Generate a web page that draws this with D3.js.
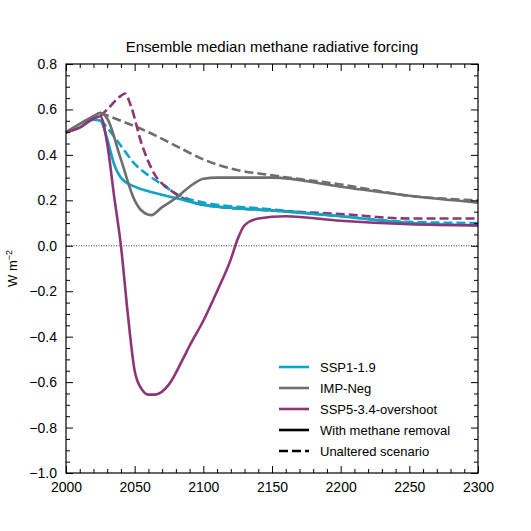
<!DOCTYPE html><html><head><meta charset="utf-8"><script src="https://d3js.org/d3.v7.min.js"></script>
<style>body{margin:0;background:#fff}text{font-family:"Liberation Sans",Arial,sans-serif}</style></head><body><svg id="c" width="531" height="531"></svg>
<script>
const ssp119Solid=[[2000,0.5],[2010,0.52],[2020,0.555],[2025,0.55],[2030,0.47],[2035,0.36],[2040,0.30],[2050,0.26],[2060,0.24],[2080,0.21],[2100,0.18],[2150,0.155],[2200,0.13],[2250,0.10],[2300,0.09]];
const ssp119Dash=[[2025,0.555],[2030,0.52],[2040,0.44],[2050,0.36],[2060,0.31],[2070,0.27],[2080,0.23],[2100,0.19],[2150,0.16],[2200,0.13],[2250,0.105],[2300,0.10]];
const impSolid=[[2000,0.5],[2020,0.57],[2025,0.585],[2030,0.56],[2040,0.38],[2050,0.20],[2055,0.155],[2062,0.135],[2070,0.17],[2080,0.21],[2090,0.26],[2100,0.295],[2110,0.30],[2150,0.30],[2200,0.26],[2250,0.22],[2300,0.19]];
const impDash=[[2025,0.585],[2040,0.55],[2060,0.50],[2080,0.44],[2100,0.38],[2120,0.34],[2150,0.31],[2200,0.27],[2250,0.22],[2300,0.20]];
const ssp534Solid=[[2000,0.5],[2010,0.52],[2020,0.56],[2025,0.57],[2030,0.45],[2035,0.22],[2040,0.0],[2045,-0.3],[2050,-0.55],[2055,-0.63],[2060,-0.655],[2065,-0.655],[2075,-0.61],[2085,-0.50],[2090,-0.44],[2100,-0.33],[2110,-0.20],[2120,-0.06],[2125,0.03],[2130,0.09],[2140,0.12],[2160,0.13],[2200,0.11],[2250,0.095],[2300,0.09]];
const ssp534Dash=[[2025,0.57],[2030,0.60],[2040,0.66],[2043,0.67],[2047,0.62],[2055,0.45],[2065,0.31],[2075,0.25],[2085,0.21],[2100,0.18],[2150,0.155],[2200,0.14],[2250,0.12],[2300,0.12]];
const xTicks=[2000,2050,2100,2150,2200,2250,2300];
const yTicks=[0.8,0.6,0.4,0.2,0.0,-0.2,-0.4,-0.6,-0.8,-1.0];
const C={cyan:"#0ea4c8",gray:"#6e6e6e",purple:"#8e3575"};
const svg=d3.select("#c");
const L=66,R=478,T=64,B=473;
const x=d3.scaleLinear().domain([2000,2300]).range([L,R]);
const y=d3.scaleLinear().domain([-1,0.8]).range([B,T]);
const g=svg.append("g");
g.append("line").attr("x1",L).attr("x2",R).attr("y1",y(0)).attr("y2",y(0)).attr("stroke","#000").attr("stroke-width",0.8).attr("stroke-dasharray","1,1.5");
const line=d3.line().x(d=>x(d[0])).y(d=>y(d[1])).curve(d3.curveMonotoneX);
const series=[[ssp119Dash,C.cyan,1],[impDash,C.gray,1],[ssp534Dash,C.purple,1],[ssp119Solid,C.cyan,0],[impSolid,C.gray,0],[ssp534Solid,C.purple,0]];
series.forEach(([d,c,dash])=>g.append("path").attr("d",line(d)).attr("fill","none").attr("stroke",c).attr("stroke-width",2.6).attr("stroke-dasharray",dash?"9,4":null));
g.append("rect").attr("x",L).attr("y",T).attr("width",R-L).attr("height",B-T).attr("fill","none").attr("stroke","#000").attr("stroke-width",1.2);
function ticks(axisFn,scale,vals,minor,tr,fmt,showLbl){
  const a=axisFn(scale).tickValues(vals).tickSizeInner(-7).tickSizeOuter(0).tickPadding(9).tickFormat(showLbl?fmt:"");
  const s=svg.append("g").attr("transform",tr).call(a);s.select(".domain").remove();
  s.selectAll("text").attr("font-size",14).attr("fill","#000");
  const m=axisFn(scale).tickValues(minor).tickSizeInner(-4).tickSizeOuter(0).tickFormat("");
  const s2=svg.append("g").attr("transform",tr).call(m);s2.select(".domain").remove();
}
const xMinor=d3.range(2000,2301,10).filter(v=>v%50);
const yMinor=d3.range(-20,17).map(v=>v*0.05).filter(v=>Math.abs(Math.round(v*100)%20)!==0);
ticks(d3.axisBottom,x,xTicks,xMinor,`translate(0,${B})`,d3.format("d"),1);
ticks(d3.axisTop,x,xTicks,xMinor,`translate(0,${T})`,d3.format("d"),0);
ticks(d3.axisLeft,y,yTicks,yMinor,`translate(${L},0)`,d3.format(".1f"),1);
ticks(d3.axisRight,y,yTicks,yMinor,`translate(${R},0)`,d3.format(".1f"),0);
svg.selectAll(".tick line").attr("stroke","#000");
svg.append("text").attr("x",(L+R)/2).attr("y",52).attr("text-anchor","middle").attr("font-size",15).text("Ensemble median methane radiative forcing");
svg.append("text").attr("transform",`translate(17,${(T+B)/2}) rotate(-90)`).attr("text-anchor","middle").attr("font-size",13).html('W m<tspan baseline-shift="super" font-size="9">−2</tspan>');
const leg=[["SSP1-1.9",C.cyan,0],["IMP-Neg",C.gray,0],["SSP5-3.4-overshoot",C.purple,0],["With methane removal","#000",0],["Unaltered scenario","#000",1]];
leg.forEach(([t,c,d],i)=>{const yy=367+i*21;
  svg.append("line").attr("x1",279).attr("x2",309).attr("y1",yy).attr("y2",yy).attr("stroke",c).attr("stroke-width",2.6).attr("stroke-dasharray",d?"9,4":null);
  svg.append("text").attr("x",320).attr("y",yy+4.5).attr("font-size",13).text(t);});
</script></body></html>
